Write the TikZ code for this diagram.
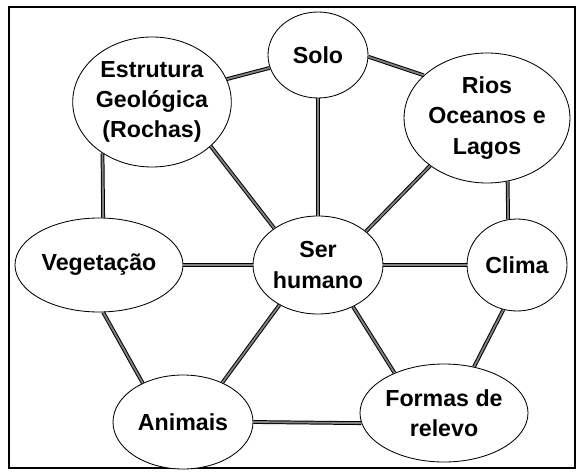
\documentclass[tikz,border=0pt]{standalone}
\usepackage{fontspec}
\setmainfont{Liberation Sans}
\usetikzlibrary{shapes.geometric}

\tikzset{
	blob/.style={draw, ellipse, fill=white, line width=0.6pt, inner sep=0pt, align=center,
		font=\fontsize{16.5}{21.5}\selectfont\bfseries},
	link/.style={draw, line width=0.7pt, double=gray, double distance=1.3pt}
}

\begin{document}
\begin{tikzpicture}
		\useasboundingbox (0,0) rectangle (14.475,11.775);
		\draw[line width=1.4pt] (0.225,0.075) rectangle (14.375,11.6);

		\node[blob, minimum width=2.5cm, minimum height=2.15cm] at (7.95,10.4)(solo){Solo};
		\node[blob, minimum width=3.9cm, minimum height=3.25cm] at (3.8,9.225)(rochas){Estrutura\\Geológica\\(Rochas)};
		\node[blob, minimum width=3.95cm, minimum height=3.25cm] at (12.175,8.825)(rios){Rios\\Oceanos e\\Lagos};
		\node[blob, minimum width=4.2cm, minimum height=2.35cm] at (2.475,5.15)(veg){Vegetação};
		\node[blob, minimum width=3.25cm, minimum height=2.45cm] at (7.95,5.15)(ser){Ser\\humano};
		\node[blob, minimum width=2.5cm, minimum height=2.3cm] at (12.925,5.15)(clima){Clima};
		\node[blob, minimum width=3.5cm, minimum height=2.35cm] at (4.575,1.225)(animais){Animais};
		\node[blob, minimum width=4.2cm, minimum height=2.45cm] at (11.1,1.45)(relevo){Formas de\\relevo};

		\path[every edge/.style=link] (rochas.17) edge (solo.195)
			(solo.358) edge (rios.146)
			(rochas.226) edge (veg.85)
			(rochas.323) edge (ser.140)
			(solo.south) edge (ser.north)
			(rios.220) edge (ser.35)
			(rios.288) edge (clima.101)
			(veg.east) edge (ser.west)
			(ser.east) edge (clima.west)
			(veg.275) edge (animais.136)
			(animais.45) edge (ser.226)
			(ser.310) edge (relevo.141)
			(clima.253) edge (relevo.57)
			(animais.east) edge (relevo.187);
	\end{tikzpicture}
\end{document}
